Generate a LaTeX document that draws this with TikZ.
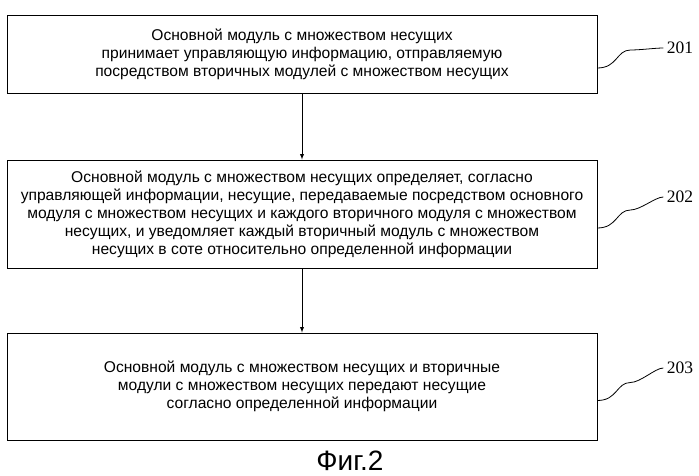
\documentclass[tikz,border=0pt]{standalone}
\usepackage{fontspec}
\setmainfont{Liberation Sans}
\newfontfamily\labfont{Liberation Serif}
\begin{document}
\begin{tikzpicture}[x=1pt,y=-1pt,
  boxst/.style={draw,line width=0.9pt,minimum width=590pt,align=center,font=\fontsize{15.6}{18}\selectfont,inner sep=0pt},
  lab/.style={font=\fontsize{17.5}{19}\selectfont\labfont},
  arr/.style={-latex,line width=0.9pt}]
\useasboundingbox (0,0) rectangle (699,476);
\node[boxst,minimum height=78pt] (b1) at (302,54) {Основной модуль с множеством несущих\\принимает управляющую информацию, отправляемую\\посредством вторичных модулей с множеством несущих};
\node[boxst,minimum height=108pt] (b2) at (302,214) {Основной модуль с множеством несущих определяет, согласно\\управляющей информации, несущие, передаваемые посредством основного\\модуля с множеством несущих и каждого вторичного модуля с множеством\\несущих, и уведомляет каждый вторичный модуль с множеством\\несущих в соте относительно определенной информации};
\node[boxst,minimum height=107pt] (b3) at (302,386.5) {Основной модуль с множеством несущих и вторичные\\модули с множеством несущих передают несущие\\согласно определенной информации};
\draw[arr] (b1) -- (b2);
\draw[arr] (b2) -- (b3);
\node[lab] (l1) at (680,48) {201};
\node[lab] (l2) at (680,197) {202};
\node[lab] (l3) at (680,368) {203};
\foreach \b/\l in {b1/l1,b2/l2,b3/l3}{
  \draw[line width=0.8pt] (\b.east) ++(0,14) .. controls +(20,0) and +(-14,0) .. ++(33,-18) .. controls +(10,0) and +(-8,0) .. (\l.west);
}
\node[font=\fontsize{28}{30}\selectfont] (cap) at (350,461) {Фиг.2};
\end{tikzpicture}
\end{document}
